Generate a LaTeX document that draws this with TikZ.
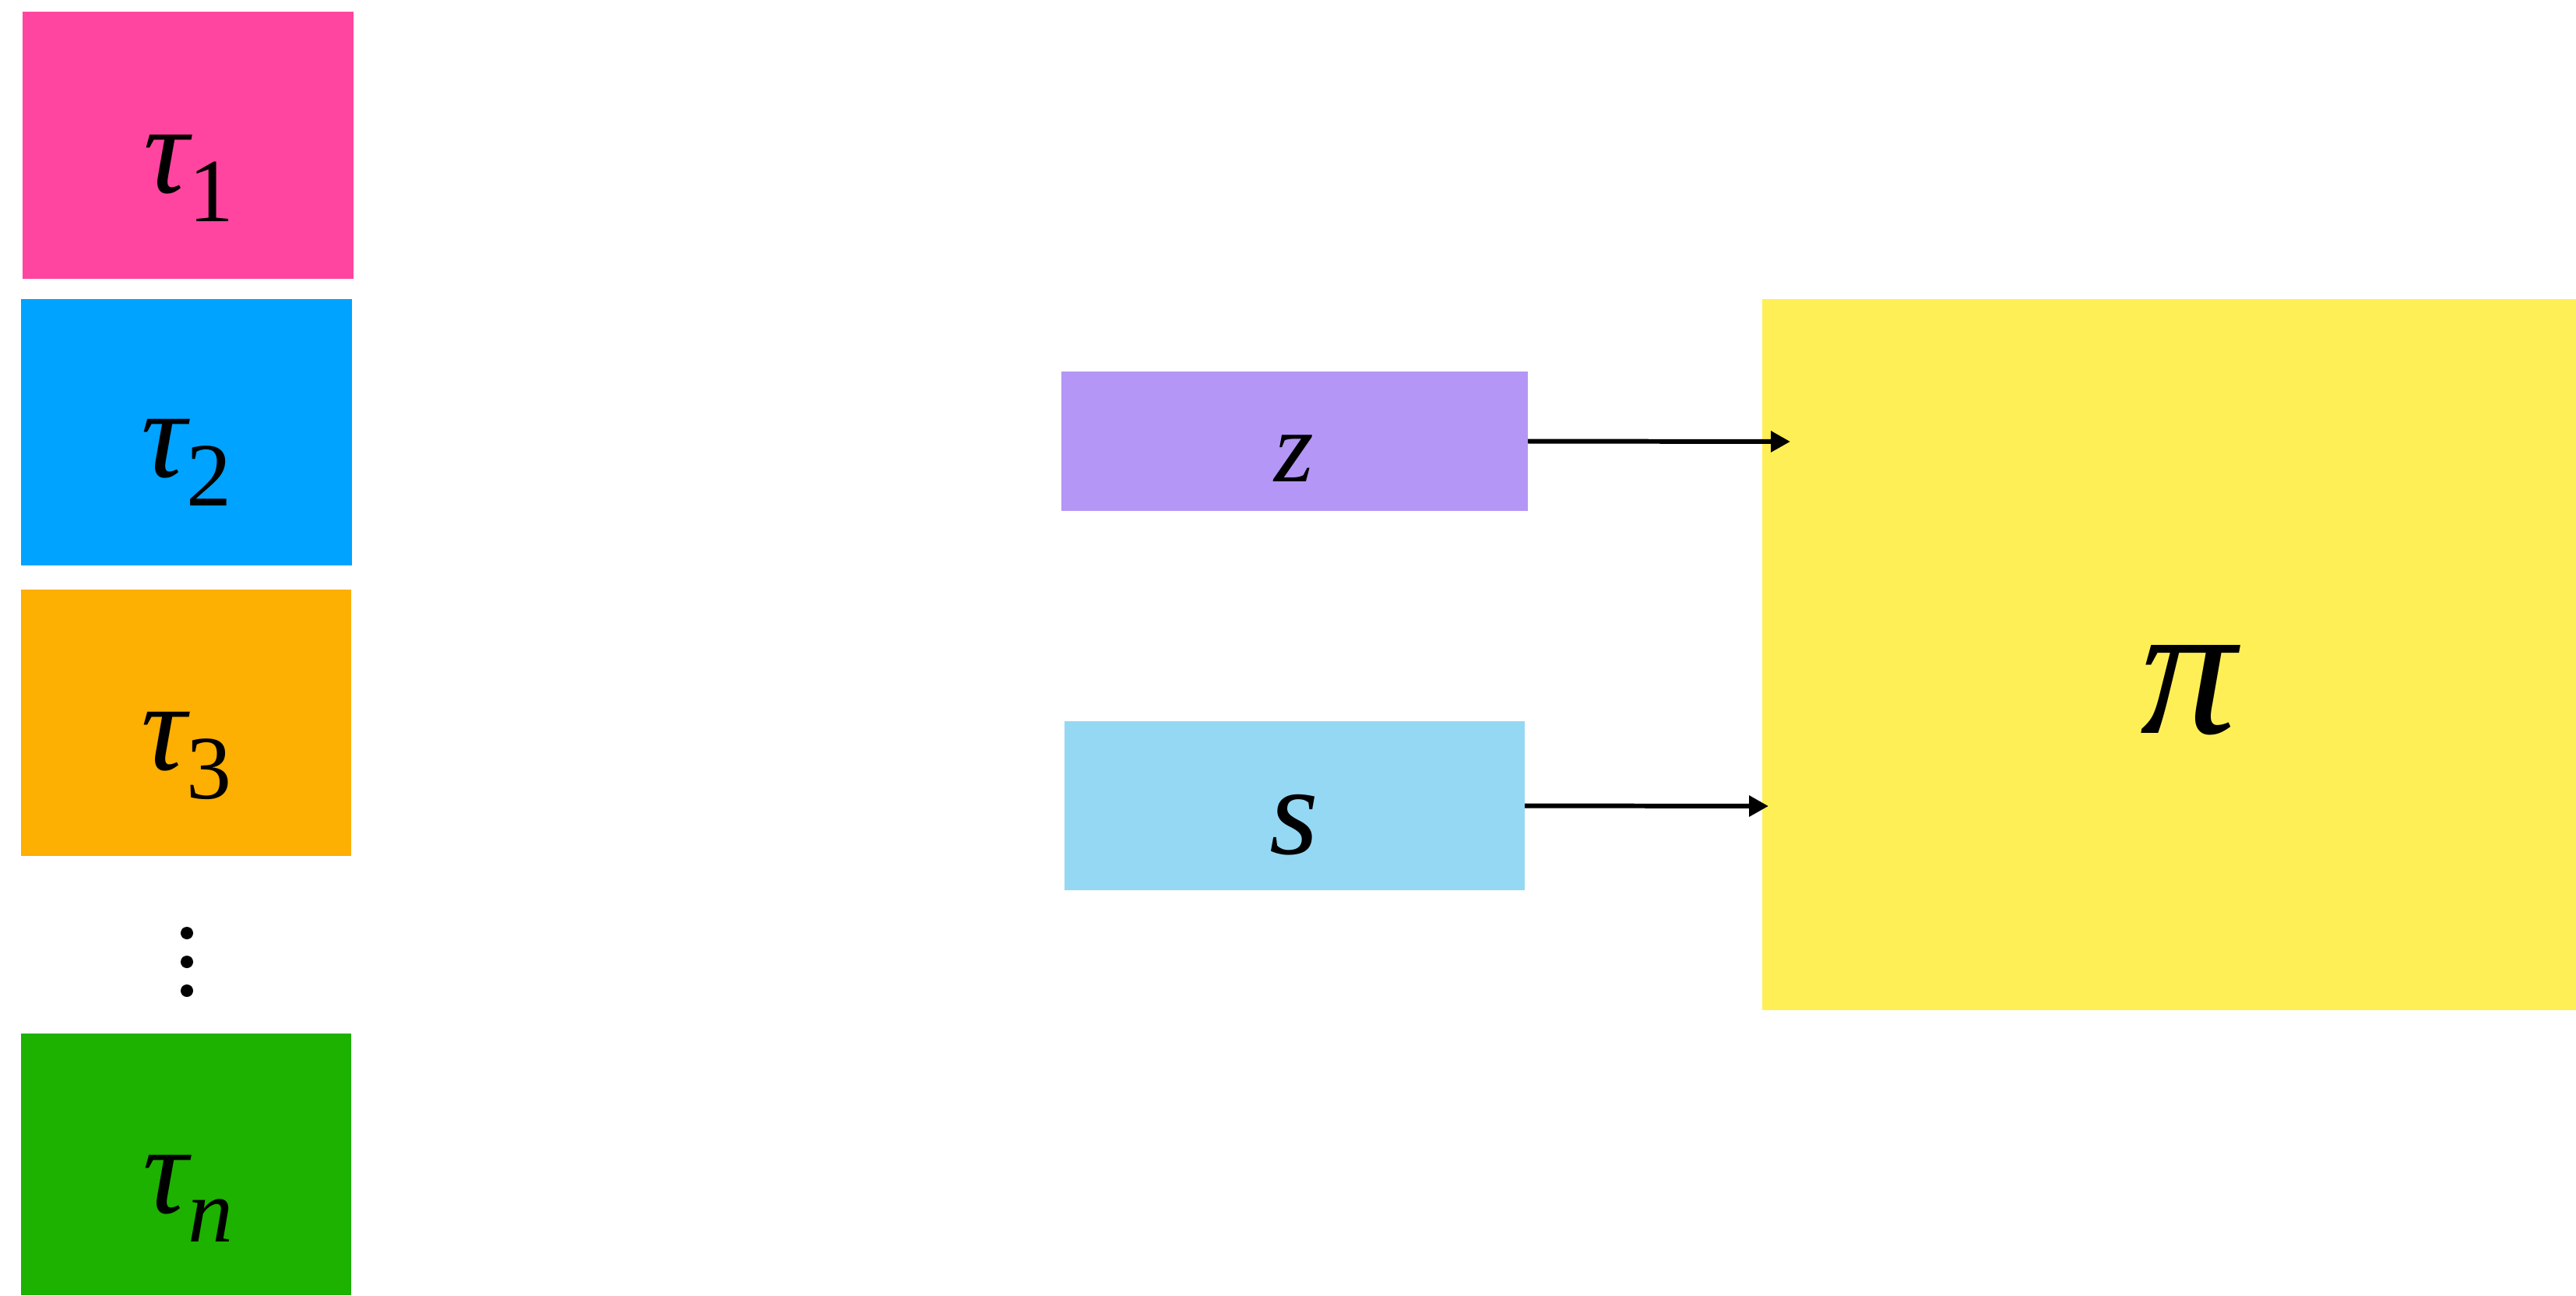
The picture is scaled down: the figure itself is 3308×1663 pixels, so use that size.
\documentclass[tikz,border=0pt]{standalone}
\usepackage{fontspec}
\setmainfont{Liberation Serif}
\usetikzlibrary{arrows.meta}
\definecolor{cpink}{HTML}{FF45A0}
\definecolor{cblue}{HTML}{00A3FF}
\definecolor{corange}{HTML}{FDAF02}
\definecolor{cgreen}{HTML}{1DB100}
\definecolor{cpurple}{HTML}{B396F5}
\definecolor{clight}{HTML}{94D8F4}
\definecolor{cyellow}{HTML}{FFEF56}
\newcommand{\tausub}[1]{{\itshape τ}\raisebox{-10.8pt}{\fontsize{33}{33}\selectfont #1}}
\begin{document}
\begin{tikzpicture}[x=0.01cm,y=-0.01cm,
  box/.style={rectangle,draw=none,inner sep=0pt,outer sep=0pt},
  lbl/.style={inner sep=0pt,font=\fontsize{46}{50}\selectfont},
  dotn/.style={circle,fill=black,inner sep=0pt,minimum size=0.16cm},
  arr/.style={line width=1.7pt,-{Triangle[length=7.1pt,width=7.4pt]}}]
\useasboundingbox (0,0) rectangle (3308,1663);
% left column
\node[box,fill=cpink,minimum width=4.25cm,minimum height=3.43cm] (t1) at (241.5,186.5) {};
\node[box,fill=cblue,minimum width=4.25cm,minimum height=3.42cm] (t2) at (239.5,555) {};
\node[box,fill=corange,minimum width=4.24cm,minimum height=3.42cm] (t3) at (239,928) {};
\node[box,fill=cgreen,minimum width=4.24cm,minimum height=3.36cm] (tn) at (239,1495) {};
\node[lbl,anchor=base west] (l1) at (184,247) {\tausub{\upshape 1}};
\node[lbl,anchor=base west] (l2) at (181,612) {\tausub{\upshape 2}};
\node[lbl,anchor=base west] (l3) at (181,988) {\tausub{\upshape 3}};
\node[lbl,anchor=base west] (ln) at (183,1557) {\tausub{\itshape n}};
\node[dotn] (d1) at (240,1198) {};
\node[dotn] (d2) at (240,1235) {};
\node[dotn] (d3) at (240,1272) {};
% middle
\node[box,fill=cpurple,minimum width=5.99cm,minimum height=1.79cm] (z) at (1662.5,566.5) {};
\node[box,fill=clight,minimum width=5.91cm,minimum height=2.17cm] (s) at (1662.5,1034.5) {};
\node[inner sep=0pt,anchor=base,font=\fontsize{37}{40}\selectfont] (lz) at (1662,618) {\itshape z};
\node[lbl,anchor=base] (ls) at (1662,1096) {\itshape s};
% right
\node[box,fill=cyellow,minimum width=10.45cm,minimum height=9.13cm] (pi) at (2785.5,840.5) {};
\node[inner sep=0pt,anchor=base,font=\fontsize{70}{74}\selectfont] (lpi) at (2810,941) {\itshape π};
% arrows
\coordinate (ztip) at (2299,567);
\coordinate (stip) at (2271,1035);
\draw[arr] (z.east) -- (ztip);
\draw[arr] (s.east) -- (stip);
\end{tikzpicture}
\end{document}
